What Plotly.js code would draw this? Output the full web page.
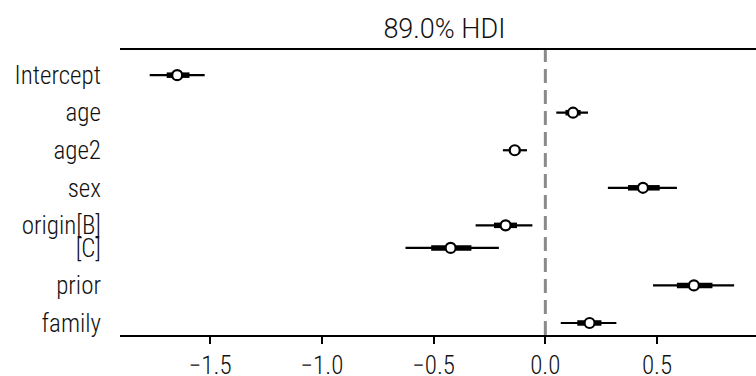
<!DOCTYPE html>
<html>
<head>
<meta charset="utf-8">
<script src="https://cdn.plot.ly/plotly-3.0.1.min.js"></script>
<style>html,body{margin:0;padding:0;background:#fff;}#chart{width:756px;height:376px;}</style>
</head>
<body>
<div id="chart"></div>
<script>
// Parameters (top to bottom) and the variable group each belongs to
var labels = ["Intercept", "age", "age2", "sex", "origin[B]", "[C]", "prior", "family"];
var groups = ["Intercept", "age", "age2", "sex", "origin", "origin", "prior", "family"];
// Posterior point estimate (mean)
var center = [-1.648, 0.124, -0.137, 0.437, -0.178, -0.424, 0.665, 0.198];
// 89% HDI bounds
var hdiLow  = [-1.771, 0.049, -0.190, 0.280, -0.312, -0.626, 0.482, 0.069];
var hdiHigh = [-1.525, 0.191, -0.082, 0.589, -0.058, -0.208, 0.845, 0.318];
// Interquartile (thick) bounds
var iqrLow  = [-1.695, 0.090, -0.163, 0.370, -0.230, -0.511, 0.589, 0.143];
var iqrHigh = [-1.593, 0.158, -0.112, 0.512, -0.127, -0.331, 0.748, 0.251];

// Row positions: 1 between variables, 0.6 within a variable group (bottom = 0)
var ypos = new Array(labels.length);
var cur = 0;
for (var i = labels.length - 1; i >= 0; i--) {
  if (i < labels.length - 1) cur += (groups[i] === groups[i + 1]) ? 0.6 : 1.0;
  ypos[i] = cur;
}

function segs(lo, hi) {
  var xs = [], ys = [];
  for (var i = 0; i < lo.length; i++) {
    xs.push(lo[i], hi[i], null);
    ys.push(ypos[i], ypos[i], null);
  }
  return {x: xs, y: ys};
}
var thin = segs(hdiLow, hdiHigh);
var thick = segs(iqrLow, iqrHigh);

var font = "Roboto Condensed, Liberation Sans Narrow, DejaVu Sans Condensed, Roboto, sans-serif";
var tfont = {family: font, size: 25, color: "#111", weight: 300};

var traces = [
  {type: "scatter", mode: "lines", x: thin.x, y: thin.y,
   line: {color: "black", width: 2.2}, hoverinfo: "skip", showlegend: false},
  {type: "scatter", mode: "lines", x: thick.x, y: thick.y,
   line: {color: "black", width: 5.5}, hoverinfo: "skip", showlegend: false},
  {type: "scatter", mode: "markers", x: center, y: ypos,
   marker: {color: "white", size: 10, line: {color: "black", width: 2.2}},
   showlegend: false}
];

var layout = {
  width: 756, height: 376,
  margin: {l: 120, r: 0, t: 50, b: 41},
  paper_bgcolor: "white", plot_bgcolor: "white",
  font: tfont,
  title: {text: "89.0% HDI", x: 0.51, xref: "paper", y: 0.925, yref: "container", yanchor: "middle",
          font: {family: "Roboto, sans-serif", size: 27, color: "#111"}},
  xaxis: {range: [-1.904, 0.943], tickvals: [-1.5, -1.0, -0.5, 0.0, 0.5], tickformat: ".1f",
          showgrid: false, zeroline: false, showline: true, mirror: true, linecolor: "black", linewidth: 2,
          ticks: "outside", ticklen: 7, tickwidth: 2, tickcolor: "black",
          tickfont: tfont},
  yaxis: {range: [-0.32, 7.27], tickvals: ypos, ticktext: labels, showgrid: false, zeroline: false,
          showline: false, ticks: "", ticklabelstandoff: 18,
          tickfont: tfont},
  shapes: [{type: "line", xref: "x", yref: "paper", x0: 0, x1: 0, y0: 0, y1: 1, layer: "below",
            line: {color: "#8a8a8a", width: 3, dash: "14px,7px"}}]
};

Plotly.newPlot("chart", traces, layout, {displayModeBar: false, staticPlot: true});
</script>
</body>
</html>
